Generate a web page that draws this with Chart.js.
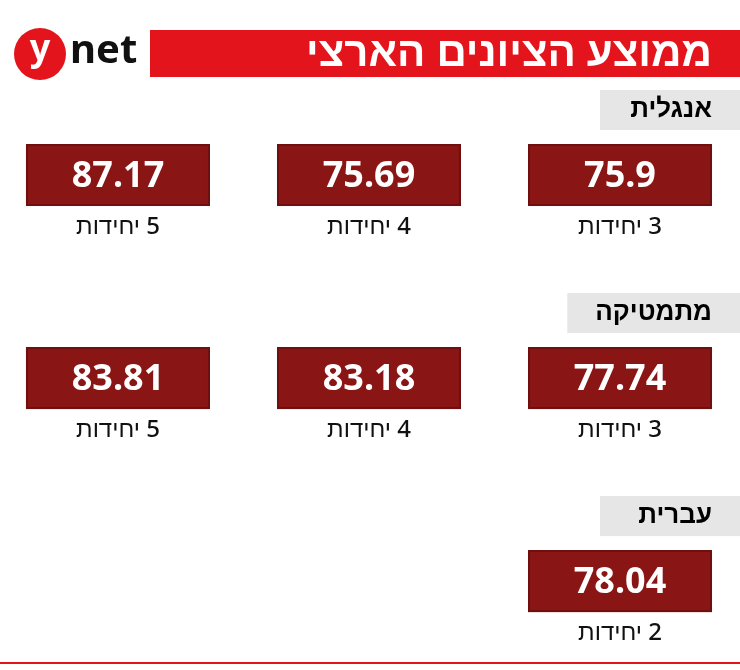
<!DOCTYPE html>
<html><head><meta charset="utf-8">
<script src="https://cdn.jsdelivr.net/npm/chart.js@4"></script>
<style>html,body{margin:0;padding:0;background:#fff}#wrap{width:740px;height:670px;position:relative}</style>
</head><body><div id="wrap"><canvas id="c" width="740" height="670"></canvas></div>
<script>
const subjects = ['אנגלית', 'מתמטיקה', 'עברית'];
const units = [['3', '4', '5'], ['3', '4', '5'], ['2']];
const scores = [[75.9, 75.69, 87.17], [77.74, 83.18, 83.81], [78.04]];
const title = 'ממוצע הציונים הארצי';

const points = [];
scores.forEach((row, r) => row.forEach((v, i) => points.push({x: i, y: r, v: v, u: units[r][i]})));

const boxes = {
  id: 'boxes',
  afterDatasetsDraw(chart) {
    const ctx = chart.ctx;
    const meta = chart.getDatasetMeta(0);
    ctx.save();
    ctx.direction = 'rtl';
    // header
    ctx.fillStyle = '#e3141b';
    ctx.fillRect(150, 30, 590, 47);
    ctx.fillStyle = '#fff';
    ctx.font = '900 42px "Noto Sans", sans-serif';
    ctx.textAlign = 'right'; ctx.textBaseline = 'middle';
    ctx.fillText(title, 712, 54);
    // logo
    ctx.fillStyle = '#e3141b';
    ctx.beginPath(); ctx.arc(40, 54, 26, 0, Math.PI * 2); ctx.fill();
    ctx.fillStyle = '#fff';
    ctx.direction = 'ltr'; ctx.textAlign = 'center';
    ctx.font = 'bold 36px "Noto Sans", sans-serif';
    ctx.fillText('y', 40, 50);
    ctx.fillStyle = '#111'; ctx.textAlign = 'left';
    ctx.font = 'bold 40px "Noto Sans", sans-serif';
    ctx.fillText('net', 70, 52);
    // subject labels
    const ys = chart.scales.y;
    subjects.forEach((s, r) => {
      const cy = ys.getPixelForValue(r) - 65;
      ctx.font = 'bold 26px "Noto Sans", sans-serif';
      const w = ctx.measureText(s).width + 28;
      ctx.fillStyle = '#e6e6e6';
      ctx.fillRect(Math.min(600, 712 - w), cy - 20, 740 - Math.min(600, 712 - w), 40);
      ctx.fillStyle = '#000'; ctx.direction = 'rtl'; ctx.textAlign = 'right';
      ctx.fillText(s, 712, cy);
    });
    // value boxes
    meta.data.forEach((el, i) => {
      const p = points[i];
      ctx.fillStyle = '#8a1515';
      ctx.fillRect(el.x - 92, el.y - 31, 184, 62);
      ctx.strokeStyle = '#6e1010'; ctx.lineWidth = 2;
      ctx.strokeRect(el.x - 91, el.y - 30, 182, 60);
      ctx.fillStyle = '#fff'; ctx.direction = 'ltr'; ctx.textAlign = 'center';
      ctx.font = 'bold 36px "Noto Sans", sans-serif';
      ctx.fillText(String(p.v), el.x, el.y + 2);
      ctx.fillStyle = '#111'; ctx.direction = 'rtl';
      ctx.font = '500 24px "Noto Sans", sans-serif';
      ctx.fillText(p.u + ' יחידות', el.x, el.y + 52);
    });
    ctx.fillStyle = '#e3141b';
    ctx.fillRect(0, 662, 740, 2);
    ctx.restore();
  }
};

new Chart(document.getElementById('c'), {
  type: 'scatter',
  data: {datasets: [{data: points, pointRadius: 0, pointHoverRadius: 0}]},
  options: {
    responsive: false, animation: false, events: [],
    layout: {padding: 0},
    plugins: {legend: {display: false}, tooltip: {enabled: false}},
    scales: {
      x: {type: 'linear', reverse: true, min: -0.478, max: 2.47, display: false},
      y: {type: 'linear', reverse: true, min: -0.862, max: 2.438, display: false}
    }
  },
  plugins: [boxes]
});
</script></body></html>
